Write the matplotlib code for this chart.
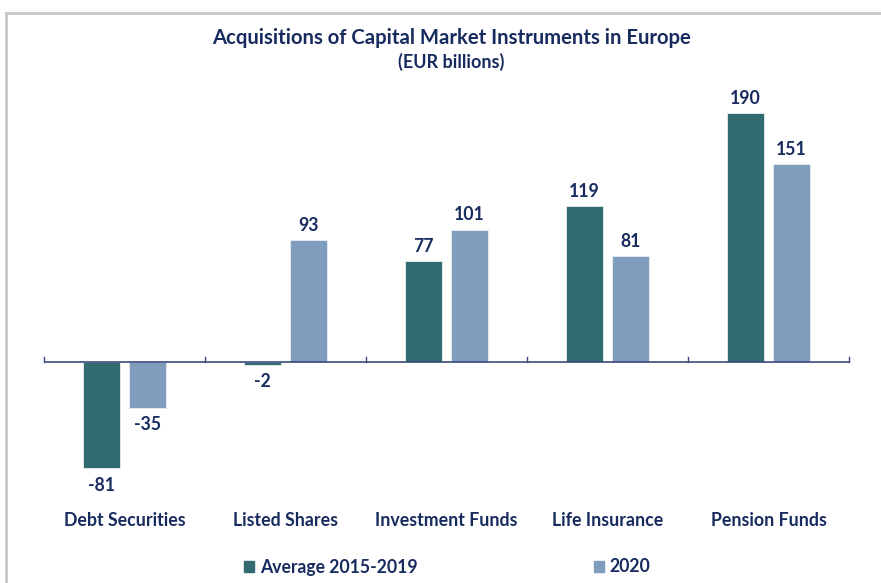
import matplotlib.pyplot as plt
import matplotlib.transforms as mtransforms
from matplotlib.patches import Rectangle, Patch
import numpy as np

# datos
categories = ['Debt Securities', 'Listed Shares', 'Investment Funds', 'Life Insurance', 'Pension Funds']
avg_2015_2019 = [-81, -2, 77, 119, 190]
y2020 = [-35, 93, 101, 81, 151]
series_names = ['Average 2015-2019', '2020']

TEAL = '#336C70'
LIGHT = '#819DBD'
NAVY = '#172B5E'
FONT = ['Lato', 'DejaVu Sans']

plt.rcParams['font.family'] = FONT

fig = plt.figure(figsize=(8.81, 5.83), dpi=100)
ax = fig.add_axes([44 / 881, 1 - 480 / 583, 805 / 881, 380 / 583])

x = np.arange(len(categories))
w = 0.224
off = 0.143
b1 = ax.bar(x - off, avg_2015_2019, w, color=TEAL, edgecolor='#e8eef2', linewidth=0.6)
b2 = ax.bar(x + off, y2020, w, color=LIGHT, edgecolor='#e8eef2', linewidth=0.6)

ax.set_xlim(-0.5, len(categories) - 0.5)
ax.set_ylim(-90, 200)

# etiquetas de valores
for bars, vals in [(b1, avg_2015_2019), (b2, y2020)]:
    for rect, v in zip(bars, vals):
        cx = rect.get_x() + rect.get_width() / 2
        if v >= 0:
            ax.annotate(f'{v}', (cx, v), xytext=(0, 4.5), textcoords='offset points',
                        ha='center', va='bottom', fontsize=12.7, fontweight='bold', color=NAVY)
        else:
            ax.annotate(f'{v}', (cx, v), xytext=(0, -6), textcoords='offset points',
                        ha='center', va='top', fontsize=12.7, fontweight='bold', color=NAVY)

# eje cero con marcas hacia arriba
for s in ax.spines.values():
    s.set_visible(False)
ax.axhline(0, color='#3B4B7C', lw=1.2, zorder=3)
ax.set_xticks([])
ax.set_yticks([])
for b in np.arange(-0.5, len(categories), 1.0):
    ax.plot([b, b], [0, 3.5], color='#3B4B7C', lw=1.0, zorder=3, clip_on=False)

# nombres de categorias abajo
trans = mtransforms.blended_transform_factory(ax.transData, fig.transFigure)
for i, c in enumerate(categories):
    ax.text(i, 1 - 520 / 583, c, transform=trans, ha='center', va='center',
            fontsize=12.8, fontweight='bold', color=NAVY)

# titulo
fig.text(451 / 881, 1 - 38 / 583, 'Acquisitions of Capital Market Instruments in Europe',
         ha='center', va='center', fontsize=14.6, fontweight='bold', color=NAVY)
fig.text(451 / 881, 1 - 62 / 583, '(EUR billions)', ha='center', va='center',
         fontsize=13, fontweight='bold', color=NAVY)

# leyenda
handles = [Patch(color=TEAL), Patch(color=LIGHT)]
fig.legend(handles, series_names, loc='center', bbox_to_anchor=(447 / 881, 1 - 567 / 583),
           ncol=2, frameon=False, handlelength=0.57, handleheight=0.57, handletextpad=0.34,
           columnspacing=10.0, prop={'family': FONT, 'weight': 'bold', 'size': 12.7},
           labelcolor=NAVY)

# marco gris del grafico
fig.patches.append(Rectangle((6 / 881, -0.05), 1.0, 1 - 13 / 583 + 0.05, transform=fig.transFigure,
                             fill=False, edgecolor='#C8C8C8', lw=2.0))

fig.savefig('out.png', dpi=100)
